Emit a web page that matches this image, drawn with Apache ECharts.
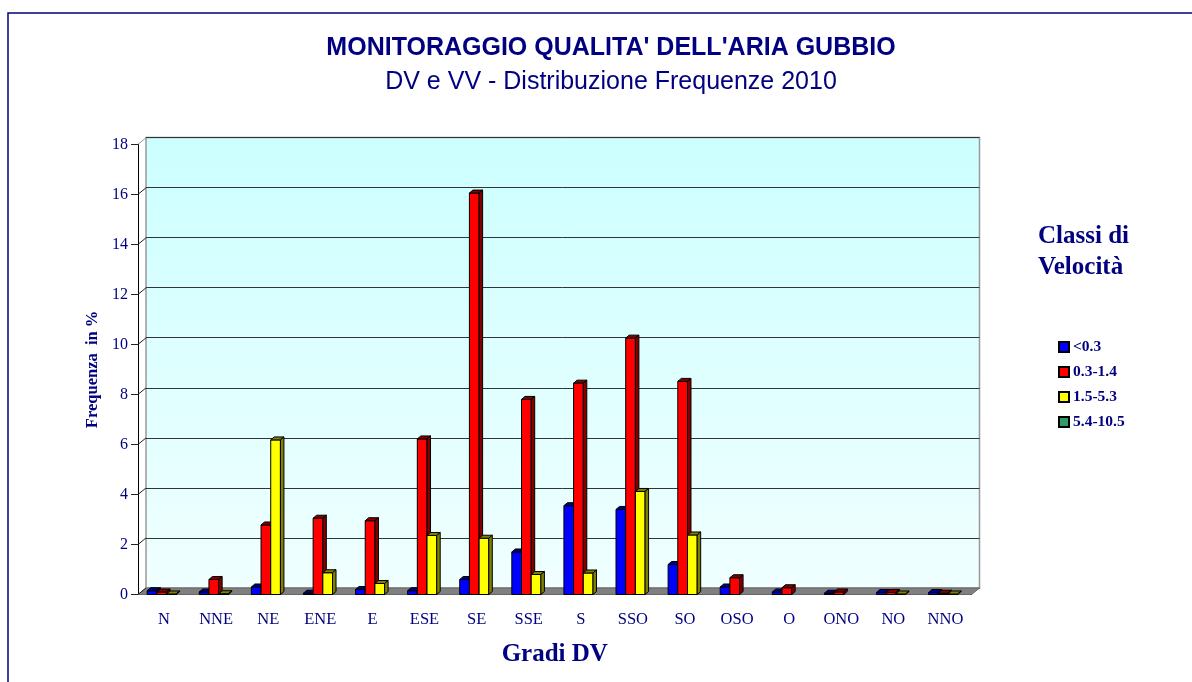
<!DOCTYPE html>
<html>
<head>
<meta charset="utf-8">
<script src="https://cdn.jsdelivr.net/npm/echarts@6/dist/echarts.min.js"></script>
<style>
  html, body { margin: 0; padding: 0; background: #fff; }
  #main { width: 1192px; height: 682px; }
</style>
</head>
<body>
<div id="main"></div>
<script type="text/javascript">
// dati
var categorie = ['N', 'NNE', 'NE', 'ENE', 'E', 'ESE', 'SE', 'SSE', 'S', 'SSO', 'SO', 'OSO', 'O', 'ONO', 'NO', 'NNO'];
var classi = ['<0.3', '0.3-1.4', '1.5-5.3', '5.4-10.5'];
var vel1 = [0.15, 0.1, 0.3, 0.05, 0.2, 0.15, 0.6, 1.7, 3.55, 3.4, 1.2, 0.3, 0.1, 0.05, 0.08, 0.08];
var vel2 = [0.1, 0.6, 2.78, 3.05, 2.95, 6.22, 16.05, 7.8, 8.45, 10.25, 8.52, 0.67, 0.27, 0.1, 0.08, 0.05];
var vel3 = [0.02, 0.03, 6.18, 0.87, 0.44, 2.36, 2.25, 0.8, 0.86, 4.12, 2.38, 0, 0, 0, 0.02, 0.02];
var vel4 = [0, 0, 0, 0, 0, 0, 0, 0, 0, 0, 0, 0, 0, 0, 0, 0];
var yTicks = [0, 2, 4, 6, 8, 10, 12, 14, 16, 18];

var colori = ['#0000ff', '#ff0000', '#ffff00', '#339966'];
var scuri = ['#000080', '#800000', '#808000', '#1c5c3c'];
var navy = '#000080';
var DX = 8, DY = 6.5;   // profondita' del "3D"

var myChart = echarts.init(document.getElementById('main'));

function toData(arr) {
  return arr.map(function (v, i) { return [i, v]; });
}

// barra finta 3D: faccia, top e fianco
function barra(idx) {
  return function (params, api) {
    var v = api.value(1);
    if (!v) return null;
    var ci = api.value(0);
    var base = api.coord([ci, 0]);
    var top = api.coord([ci, v]);
    var bw = api.size([1, 0])[0];
    var w = bw * 0.186;
    var x = base[0] - 2 * w + idx * w + 2.5;
    var d = 3.5, e = 3;
    var st = { stroke: '#000', lineWidth: 1 };
    return {
      type: 'group',
      children: [
        { type: 'rect', shape: { x: x, y: top[1], width: w, height: base[1] - top[1] },
          style: { fill: colori[idx], stroke: '#000', lineWidth: 1 } },
        { type: 'polygon', shape: { points: [[x, top[1]], [x + w, top[1]], [x + w + d, top[1] - e], [x + d, top[1] - e]] },
          style: Object.assign({ fill: scuri[idx] }, st) },
        { type: 'polygon', shape: { points: [[x + w, top[1]], [x + w + d, top[1] - e], [x + w + d, base[1] - e], [x + w, base[1]]] },
          style: Object.assign({ fill: scuri[idx] }, st) }
      ]
    };
  };
}

// pavimento grigio e raccordi dei tick
function decoro(params, api) {
  var v = api.value(0);
  var bw = api.size([1, 0])[0];
  var p = api.coord([0, v]);
  var left = p[0] - bw / 2;
  var children = [
    { type: 'line', shape: { x1: left, y1: p[1], x2: left + DX, y2: p[1] - DY },
      style: { stroke: v === 18 ? '#999' : '#222', lineWidth: 1 } }
  ];
  if (v === 0) {
    var right = api.coord([categorie.length - 1, 0])[0] + bw / 2;
    children.unshift({ type: 'polygon',
      shape: { points: [[left, p[1]], [right, p[1]], [right + DX, p[1] - DY], [left + DX, p[1] - DY]] },
      style: { fill: '#808080', stroke: '#666', lineWidth: 1 } });
  }
  return { type: 'group', children: children };
}

var serie = [vel1, vel2, vel3, vel4].map(function (arr, i) {
  return {
    name: classi[i],
    type: 'custom',
    xAxisIndex: 1, yAxisIndex: 1,
    renderItem: barra(i),
    itemStyle: { color: colori[i], borderColor: '#000', borderWidth: 1 },
    encode: { x: 0, y: 1 },
    data: toData(arr),
    z: 5 + i
  };
});

serie.unshift({
  type: 'custom',
  xAxisIndex: 1, yAxisIndex: 1,
  renderItem: decoro,
  encode: { y: 0 },
  data: yTicks.map(function (t) { return [t]; }),
  silent: true,
  z: 3
});

var option = {
  backgroundColor: '#fff',
  animation: false,
  title: [
    { text: "MONITORAGGIO QUALITA' DELL'ARIA GUBBIO", left: 606, top: 31, textAlign: 'center',
      textStyle: { fontFamily: 'Liberation Sans', fontSize: 25, fontWeight: 'bold', color: navy } },
    { text: 'DV e VV - Distribuzione Frequenze 2010', left: 606, top: 65, textAlign: 'center',
      textStyle: { fontFamily: 'Liberation Sans', fontSize: 25, fontWeight: 'normal', color: navy } },
    { text: 'Classi di\nVelocità', left: 1033, top: 216,
      textStyle: { fontFamily: 'Liberation Serif', fontSize: 25, fontWeight: 'bold', color: navy, lineHeight: 31 } }
  ],
  legend: {
    data: classi,
    orient: 'vertical',
    left: 1053, top: 334,
    itemWidth: 10, itemHeight: 10, itemGap: 9,
    icon: 'rect',
    selectedMode: false,
    textStyle: { fontFamily: 'Liberation Serif', fontSize: 15.5, fontWeight: 'bold', color: navy, padding: [0, 0, 0, -1] }
  },
  grid: [
    { left: 146, right: 212.5, top: 137.5, bottom: 94, show: true,
      backgroundColor: new echarts.graphic.LinearGradient(0, 0, 0, 1, [
        { offset: 0, color: '#ccffff' }, { offset: 1, color: '#f0ffff' }]),
      borderColor: '#999', borderWidth: 1.5 },
    { left: 138, right: 220.5, top: 144.3, bottom: 87.5 }
  ],
  xAxis: [
    { gridIndex: 0, type: 'category', data: categorie, show: false },
    { gridIndex: 1, type: 'category', data: categorie,
      name: 'Gradi DV', nameLocation: 'middle', nameGap: 48,
      nameTextStyle: { fontFamily: 'Liberation Serif', fontSize: 25, fontWeight: 'bold', color: navy },
      axisLine: { lineStyle: { color: navy, width: 1 } },
      axisTick: { length: 8, lineStyle: { color: navy } },
      axisLabel: { fontFamily: 'Liberation Serif', fontSize: 16.5, color: navy, margin: 17 } }
  ],
  yAxis: [
    { gridIndex: 0, type: 'value', min: 0, max: 18, interval: 2,
      axisLine: { show: false }, axisTick: { show: false }, axisLabel: { show: false },
      splitLine: { lineStyle: { color: '#333', width: 1 } } },
    { gridIndex: 1, type: 'value', min: 0, max: 18, interval: 2,
      name: 'Frequenza  in %', nameLocation: 'middle', nameGap: 36, nameRotate: 90,
      nameTextStyle: { fontFamily: 'Liberation Serif', fontSize: 16.5, fontWeight: 'bold', color: navy },
      axisLine: { show: true, lineStyle: { color: '#000', width: 1 } },
      axisTick: { show: true, length: 7, lineStyle: { color: '#222' } },
      axisLabel: { fontFamily: 'Liberation Serif', fontSize: 16, color: navy, margin: 10 },
      splitLine: { show: false } }
  ],
  graphic: [
    { type: 'rect', shape: { x: 8, y: 13, width: 1300, height: 800 }, silent: true,
      style: { fill: 'none', stroke: navy, lineWidth: 1.5 }, z: -1 }
  ],
  series: serie
};

myChart.setOption(option);
</script>
</body>
</html>
